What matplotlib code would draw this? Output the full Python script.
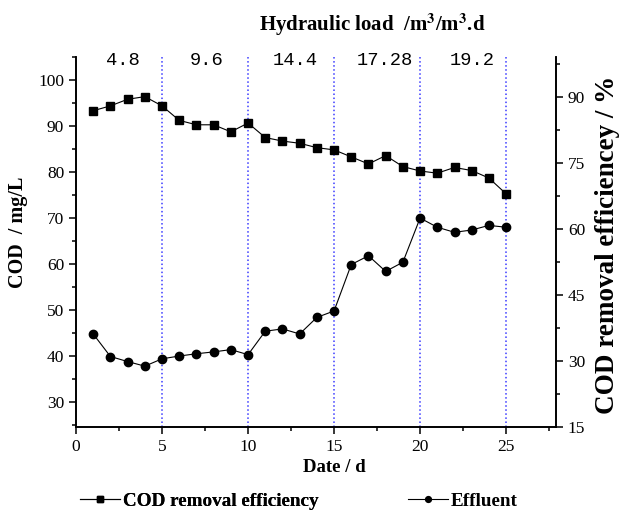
import matplotlib
matplotlib.use("Agg")
import matplotlib.pyplot as plt
from matplotlib.ticker import MultipleLocator

plt.rcParams['font.family'] = ['Liberation Serif', 'DejaVu Serif']
plt.rcParams['mathtext.fontset'] = 'stix'

days = list(range(1, 26))
# COD removal efficiency (%), right axis
efficiency = [86.9, 88.0, 89.5, 90.1, 88.0, 84.7, 83.7, 83.7, 82.1, 84.1,
              80.8, 80.0, 79.5, 78.5, 78.0, 76.4, 74.8, 76.7, 74.2, 73.2,
              72.7, 74.0, 73.3, 71.6, 68.0]
# effluent COD (mg/L), left axis
effluent = [44.8, 39.9, 38.8, 37.8, 39.4, 40.0, 40.5, 40.9, 41.4, 40.3,
            45.4, 45.9, 44.8, 48.4, 49.8, 59.9, 61.8, 58.4, 60.4, 70.0,
            68.0, 66.9, 67.4, 68.4, 68.0]
stage_bounds = [5, 10, 15, 20, 25]
stage_centers = [2.75, 7.6, 12.75, 17.95, 23.0]
stage_loads = ["4.8", "9.6", "14.4", "17.28", "19.2"]

fig = plt.figure(figsize=(6.22, 5.13), dpi=100)
ax = fig.add_axes([0.1222, 0.1676, 0.7717, 0.7212])
ax2 = ax.twinx()

l2, = ax.plot(days, effluent, '-o', color='black', lw=0.8, ms=6,
              label='Effluent')
l1, = ax2.plot(days, efficiency, '-s', color='black', lw=0.8, ms=5.5,
               label='COD removal efficiency')

for b in stage_bounds:
    ax.axvline(b, color='#3a3aff', ls=':', lw=1.1, zorder=0)
for c, t in zip(stage_centers, stage_loads):
    ax.text(c, 0.992, t, transform=ax.get_xaxis_transform(), ha='center',
            va='center', fontsize=13.5, family='Liberation Mono')

ax.set_xlim(0, 27.9)
ax.set_ylim(24.57, 105)
ax2.set_ylim(15, 99.1)

ax.xaxis.set_major_locator(MultipleLocator(5))
ax.xaxis.set_minor_locator(MultipleLocator(2.5))
ax.set_yticks(range(30, 101, 10))
ax.yaxis.set_minor_locator(MultipleLocator(5))
ax2.yaxis.set_major_locator(MultipleLocator(15))
ax2.yaxis.set_minor_locator(MultipleLocator(7.5))

for a in (ax, ax2):
    a.spines['top'].set_visible(False)
    for s in a.spines.values():
        s.set_linewidth(1.2)
    a.tick_params(which='major', direction='out', length=5, width=1.1,
                  labelsize=12.5)
    a.tick_params(which='minor', direction='out', length=3, width=1.1)

ax.set_xlabel('Date / d', fontsize=13.5, fontweight='bold')
ax.xaxis.set_label_coords(0.5375, -0.086)
fig.text(18 / 622, 1 - 232 / 513, 'COD  / mg/L', rotation=90, ha='center',
         va='center', fontsize=14.5, fontweight='bold')
fig.text(607 / 622, 1 - 245 / 513, 'COD removal efficiencey / %',
         rotation=90, ha='center', va='center', fontsize=19.5,
         fontweight='bold')

fig.text(372 / 622, 1 - 25 / 513,
         r'Hydraulic load  /m$^{\mathbf{3}}$/m$^{\mathbf{3}}$.d',
         ha='center', va='center', fontsize=15, fontweight='bold')

leg_kw = dict(loc='center left', frameon=False, borderpad=0,
              borderaxespad=0, prop={'weight': 'bold', 'size': 13.8},
              markerscale=0.7, handlelength=2.1, handletextpad=0.15)
leg1 = fig.legend([l1], ['COD removal efficiency'],
                  bbox_to_anchor=(80 / 622, 1 - 501 / 513), **leg_kw)
fig.add_artist(leg1)
fig.legend([l2], ['Effluent'], bbox_to_anchor=(408 / 622, 1 - 501 / 513),
           **leg_kw)

fig.savefig('out.png', dpi=100)
